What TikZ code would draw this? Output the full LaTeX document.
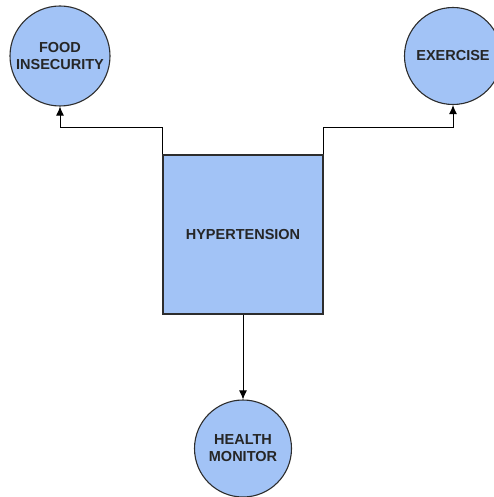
\documentclass[tikz,border=0pt]{standalone}
\usepackage{fontspec}
\setmainfont{Liberation Sans}
\usepackage{tikz}
\usetikzlibrary{arrows.meta}
\definecolor{bluefill}{RGB}{162,195,246}
\definecolor{edgegray}{RGB}{45,45,45}

\begin{document}
\begin{tikzpicture}[x=1pt,y=-1pt]
\tikzstyle{every node}+=[inner sep=0pt]
\tikzstyle{factor}=[circle,draw=edgegray,line width=1.1pt,fill=bluefill,minimum size=100pt,align=center,text=black!85,font=\bfseries\fontsize{14.5}{17}\selectfont]
\tikzstyle{condition}=[rectangle,draw=edgegray,line width=1.1pt,fill=bluefill,minimum width=160pt,minimum height=159pt,text=black!85,font=\bfseries\fontsize{14.5}{17}\selectfont]
\tikzstyle{link}=[draw=black,line width=1pt,-{Latex[length=9pt,width=8pt]}]
\useasboundingbox (0,0) rectangle (494,497);
\node [factor] (food) at (60,56) {FOOD\\INSECURITY};
\node [factor,minimum size=97pt] (exercise) at (453,56) {EXERCISE};
\node [condition] (hyper) at (243,234.5) {HYPERTENSION};
\node [factor,minimum size=97pt] (health) at (243,448.5) {HEALTH\\MONITOR};
\draw [link] (hyper.north west) -- ++(0,-27) -| (food.south);
\draw [link] (hyper.north east) -- ++(0,-27) -| (exercise.south);
\draw [link] (hyper.south) -- (health.north);
\end{tikzpicture}
\end{document}
